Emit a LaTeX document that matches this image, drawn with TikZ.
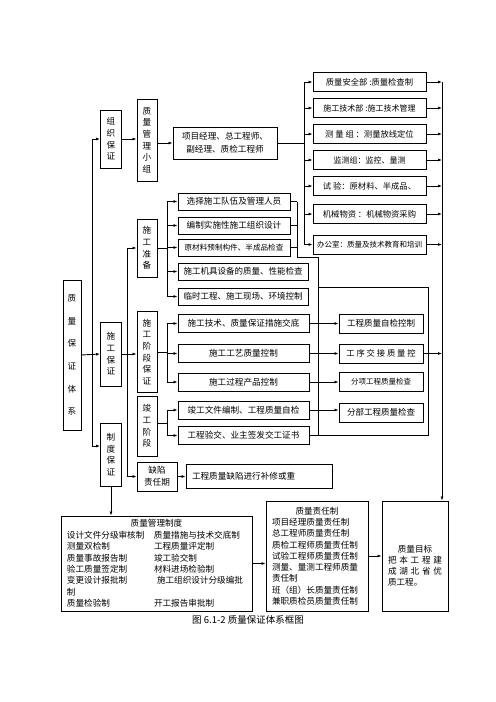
\documentclass[tikz,border=0pt]{standalone}
\usepackage{fontspec}
\setmainfont{Noto Sans CJK SC}
\usepackage{tikz}
\usetikzlibrary{arrows.meta}
\tikzset{
  box/.style={draw, line width=0.9bp, inner sep=0pt, align=center,
              font=\fontsize{8.6bp}{11.6bp}\selectfont},
  vbox/.style={box, minimum width=21bp},
  hbox/.style={box, minimum height=17bp},
  arr/.style={-{Latex[length=4bp,width=3bp]}, line width=0.9bp},
  ln/.style={line width=0.9bp},
}
\begin{document}
\begin{tikzpicture}[x=1bp, y=-1bp]
  \useasboundingbox (0,0) rectangle (496,702);
  % bus lines
  \coordinate (spine) at (92,0);
  \coordinate (busB) at (127,0);
  \coordinate (busC) at (167,0);
  \coordinate (busA) at (304,0);
  \coordinate (busR) at (442,0);
  \coordinate (ja) at (297,257);
  \coordinate (jb) at (318,257);
  \coordinate (jc) at (318,287);
  \coordinate (jd) at (428,287);

  % left columns
  \node[box, minimum width=18bp, minimum height=150bp, font=\fontsize{8.6bp}{22.6bp}\selectfont] (sys) at (72,355) {质\\量\\保\\证\\体\\系};
  \node[vbox, minimum height=58bp] (zuzhi) at (111,139) {组\\织\\保\\证};
  \node[vbox, minimum height=64bp] (shigong) at (111,354) {施\\工\\保\\证};
  \node[vbox, minimum height=63bp] (zhidu) at (111,454.5) {制\\度\\保\\证};
  \node[box, minimum width=20bp, minimum height=82bp] (xiaozu) at (147,140) {质\\量\\管\\理\\小\\组};
  \node[box, minimum width=20bp, minimum height=58bp] (zhunbei) at (147,248) {施\\工\\准\\备};
  \node[box, minimum width=20bp, minimum height=81bp] (jieduan) at (147,352) {施\\工\\阶\\段\\保\\证};
  \node[box, minimum width=20bp, minimum height=60bp] (jungong) at (147,426) {竣\\工\\阶\\段};
  \node[box, minimum width=40bp, minimum height=29bp] (quexian) at (157,476.5) {缺陷\\责任期};
  \node[box, minimum width=104bp, minimum height=32bp, font=\fontsize{8.6bp}{13bp}\selectfont] (xm) at (225,143) {项目经理、总工程师、\\副经理、质检工程师};

  % departments
  \foreach \n/\y/\fs/\t in {r1/82/8.3/{质量安全部 :质量检查制}, r2/108/8.0/{施工技术部 :施工技术管理},
      r3/134/8.3/{测\ 量\ 组\ ：测量放线定位}, r4/160/8.0/{监测组：监控、量测},
      r5/186/8.3/{试\ 验：原材料、半成品、}, r6/214/8.3/{机械物资\ ：机械物资采购},
      r7/244.5/7.5/{办公室：质量及技术教育和培训}}
    \node[hbox, minimum width=113bp, minimum height=19bp, font=\fontsize{\fs bp}{10bp}\selectfont] (\n) at (369.5,\y) {\t};

  % construction preparation
  \foreach \n/\x/\w/\y/\fs/\t in {a/234/112/201.5/8.6/{选择施工队伍及管理人员}, b/234/112/225.5/8.6/{编制实施性施工组织设计},
      c/234/112/247.5/7.6/{原材料预制构件、半成品检查}, d/243/130/271.5/8.5/{施工机具设备的质量、性能检查},
      e/243/130/296.5/8.5/{临时工程、施工现场、环境控制}}
    \node[hbox, minimum width=\w bp, font=\fontsize{\fs bp}{10bp}\selectfont] (\n) at (\x,\y) {\t};

  % construction stage and completion
  \foreach \n/\y/\t in {j1/323.5/{施工技术、质量保证措施交底}, j2/353.5/{施工工艺质量控制},
      j3/382/{施工过程产品控制}, g1/410/{竣工文件编制、工程质量自检}, g2/435.5/{工程验交、业主签发交工证书}}
    \node[hbox, minimum width=131bp, minimum height=18bp] (\n) at (243.5,\y) {\t};
  \foreach \n/\y/\fs/\t in {k1/323.5/8.5/{工程质量自检控制}, k2/353.5/8.3/{工\ 序\ 交\ 接\ 质\ 量\ 控},
      k3/382/7.5/{分项工程质量检查}, k4/412.5/8.5/{分部工程质量检查}}
    \node[hbox, minimum width=84bp, minimum height=19bp, font=\fontsize{\fs bp}{10bp}\selectfont] (\n) at (381,\y) {\t};
  \node[hbox, minimum width=146bp, minimum height=24bp, text width=134bp, align=left] (q) at (259,476) {工程质量缺陷进行补修或重};

  % systems
  \node[box, minimum width=191bp, minimum height=95bp, text width=179bp, align=left,
        font=\fontsize{8.6bp}{11.43bp}\selectfont] (zd) at (156.5,563.5) {%
    \makebox[179bp]{质量管理制度}\\
    \makebox[87bp][l]{设计文件分级审核制}质量措施与技术交底制\\
    \makebox[87bp][l]{测量双检制}工程质量评定制\\
    \makebox[87bp][l]{质量事故报告制}竣工验交制\\
    \makebox[87bp][l]{验工质量签定制}材料进场检验制\\
    \makebox[90bp][l]{变更设计报批制}施工组织设计分级编批\\
    制\\
    \makebox[87bp][l]{质量检验制}开工报告审批制};
  \node[box, minimum width=102bp, minimum height=110bp, text width=90bp, align=left,
        font=\fontsize{8.6bp}{11.25bp}\selectfont] (zr) at (317,556) {%
    \makebox[90bp]{质量责任制}\\
    项目经理质量责任制\\
    总工程师质量责任制\\
    质检工程师质量责任制\\
    试验工程师质量责任制\\
    测量、量测工程师质量\\
    责任制\\
    班（组）长质量责任制\\
    兼职质检员质量责任制};
  \node[box, minimum width=66bp, minimum height=110bp, text width=54bp, align=left,
        font=\fontsize{8.6bp}{11.2bp}\selectfont] (mb) at (415,556) {%
    \rule{0pt}{27bp}\makebox[54bp]{质量目标}\\
    把\hfill 本\hfill 工\hfill 程\hfill 建\\
    成\hfill 湖\hfill 北\hfill 省\hfill 优\\
    质工程。};
  \node[font=\fontsize{9.5bp}{11bp}\selectfont] (cap) at (248,620) {图 6.1-2 质量保证体系框图};

  % left connectors
  \draw[arr] (sys.east) -- (shigong.west);
  \draw[arr] (sys.east -| spine) |- (zuzhi.west);
  \draw[arr] (sys.east -| spine) |- ([yshift=8.5bp]zhidu.west);
  \draw[arr] (zuzhi.east) -- (zuzhi.east -| xiaozu.west);
  \draw[arr] (xm.west -| xiaozu.east) -- (xm.west);
  \draw[arr] (shigong.east) -- (shigong.east -| jieduan.west);
  \draw[arr] (shigong.east -| busB) |- (zhunbei.west);
  \draw[arr] (shigong.east -| busB) |- (quexian.west);
  \draw[arr] (quexian.east) -- (quexian.east -| q.west);

  % departments
  \draw[ln] (xm.east) -- (xm.east -| busA);
  \draw[ln] (busA |- r1.west) -- (busA |- r7.west);
  \foreach \n in {r1,r2,r3,r4,r5,r6,r7} {
    \draw[arr] (busA |- \n.west) -- (\n.west);
    \draw[arr] (\n.east) -- (busR |- \n.east);
  }
  \draw[arr] (busR |- r1.east) -- (busR |- mb.north);

  % stages
  \draw[ln] (zhunbei.east) -- (zhunbei.east -| busC);
  \draw[ln] (busC |- a.west) -- (busC |- e.west);
  \foreach \n in {a,b,c,d,e}
    \draw[arr] (busC |- \n.west) -- (\n.west);
  \draw[ln] (jieduan.east) -- (jieduan.east -| busC);
  \draw[ln] (busC |- j1.west) -- (busC |- j3.west);
  \foreach \n in {j1,j2,j3}
    \draw[arr] (busC |- \n.west) -- (\n.west);
  \draw[ln] ([yshift=3bp]jungong.east) -- ([yshift=3bp]jungong.east -| busC);
  \draw[ln] (busC |- g1.west) -- (busC |- g2.west);
  \foreach \n in {g1,g2}
    \draw[arr] (busC |- \n.west) -- (\n.west);

  % checks
  \draw[arr] (j1.east) -- (k1.west);
  \draw[arr] (j2.east) -- (k2.west);
  \draw[arr] (j3.east) -- (k3.west);
  \draw[arr] (g1.east) -- (g1.east -| k4.west);
  \draw[arr] (k2.east) -- (k2.east -| busR);
  \foreach \n in {a,b,c}
    \draw[ln] (\n.east) -- (\n.east -| ja);
  \draw[ln] (a.east -| ja) -- (ja) -- (jb) |- (g2.east);
  \draw[ln] (jc) -- (jd) |- (g2.east);

  % bottom
  \draw[arr] (zhidu.south) -- (zhidu.south |- zd.north);
  \draw[arr] (zd.east) -- (zd.east -| zr.west);
  \draw[arr] (zr.east) -- (mb.west);
\end{tikzpicture}
\end{document}
